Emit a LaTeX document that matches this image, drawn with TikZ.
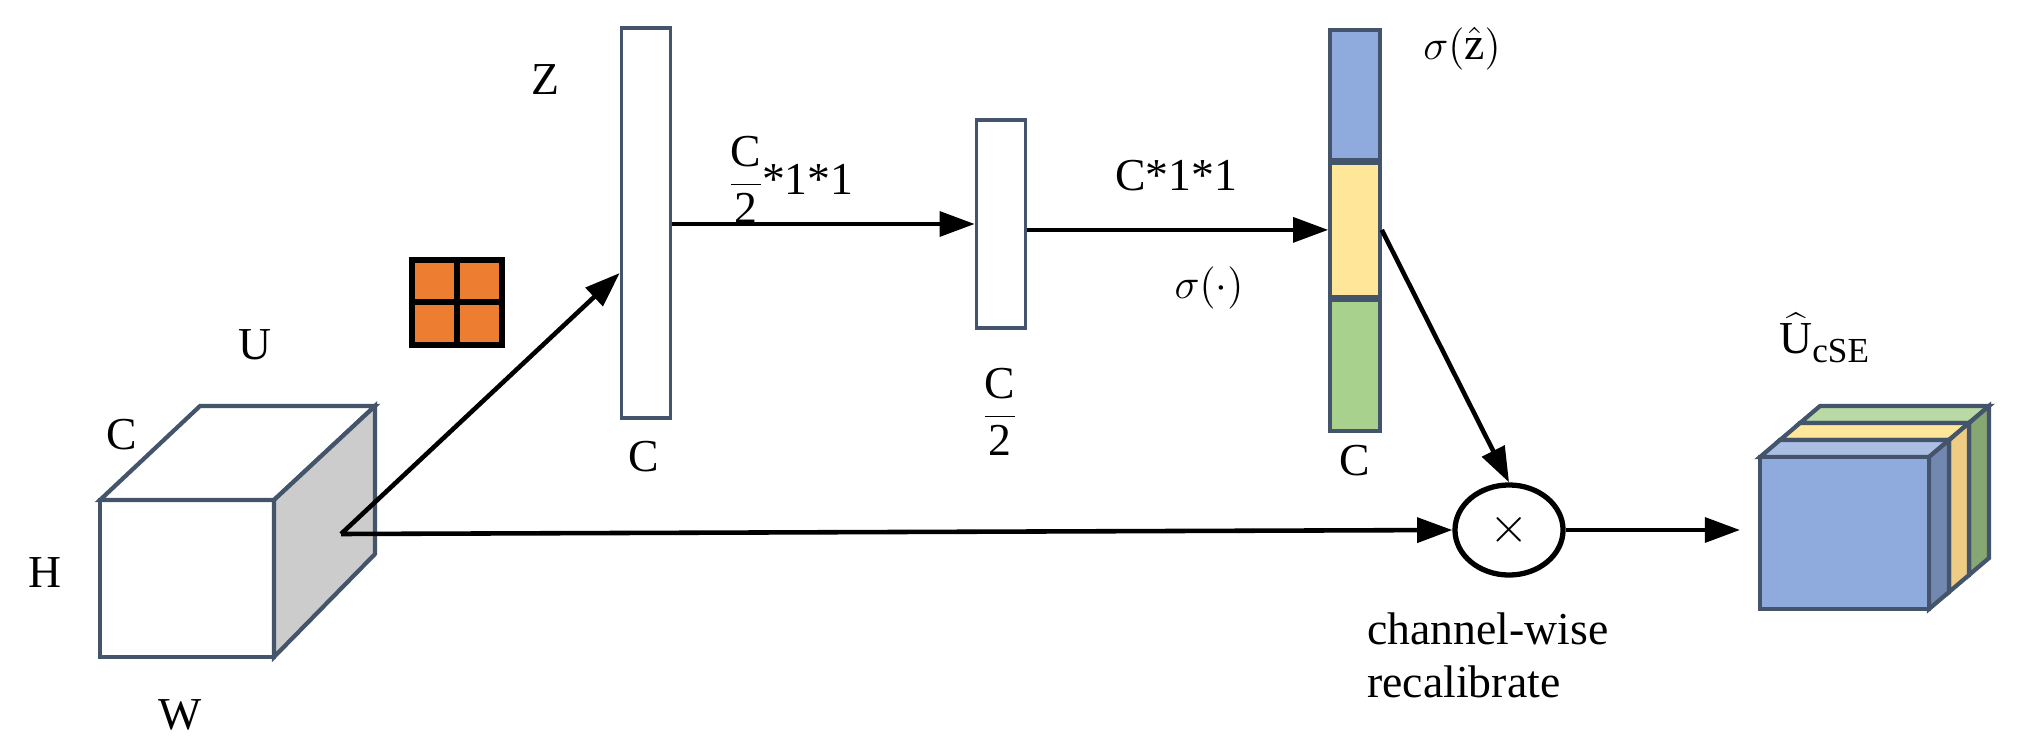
\documentclass[tikz,border=0pt]{standalone}
\usepackage{fontspec}
\setmainfont{Liberation Serif}
\usetikzlibrary{arrows.meta,shapes.geometric}
\definecolor{edge}{HTML}{44546A}
\definecolor{cblue}{HTML}{8FAADC}
\definecolor{cyellow}{HTML}{FFE699}
\definecolor{cgreen}{HTML}{A9D18E}
\definecolor{corange}{HTML}{ED7D31}

% one slab of the output cube: lower-left front corner, front fill, top fill, side fill
\newcommand{\slab}[5]{%
  \filldraw[draw=edge,line width=1.2pt,fill=#4] (#1,#2-152) -- ++(20,-17) -- ++(169,0) -- ++(-20,17) -- cycle;
  \filldraw[draw=edge,line width=1.2pt,fill=#5] (#1+169,#2) -- ++(0,-152) -- ++(20,-17) -- ++(0,152) -- cycle;
  \filldraw[draw=edge,line width=1.2pt,fill=#3] (#1,#2) rectangle ++(169,-152);
}

\begin{document}
\begin{tikzpicture}[x=0.01cm,y=-0.01cm,font=\rmfamily\fontsize{13}{15}\selectfont,
  bar/.style={rectangle,draw=edge,line width=1pt,minimum width=0.49cm,inner sep=0pt},
  cell/.style={rectangle,draw=edge,line width=1pt,minimum width=0.5cm,minimum height=1.29cm,inner sep=0pt},
  flow/.style={line width=1.3pt,-{Triangle[length=10pt,width=7pt]}}]
  \useasboundingbox (0,0) rectangle (2019,752);

  % input cube U
  \filldraw[draw=edge,line width=1.2pt,fill=white] (100,500) -- (200,406) -- (375,406) -- (274,500) -- cycle;
  \filldraw[draw=edge,line width=1.2pt,fill=black!20] (274,500) -- (375,406) -- (375,554) -- (274,657) -- cycle;
  \draw[edge,line width=1.2pt] (100,500) rectangle (274,657);
  \coordinate (in) at (341,534);
  \node (u) at (255,345) {U};
  \node (c) at (122,435) {C};
  \node (h) at (45,573) {H};
  \node (w) at (180,715) {W};

  % pooling kernel
  \filldraw[draw=black,line width=1.5pt,fill=corange] (412,260) rectangle (502,345);
  \draw[line width=1.5pt] (457,260) -- (457,345) (412,302) -- (502,302);

  % squeeze vector, bottleneck, excitation vector
  \node[bar,minimum height=3.9cm] (z) at (646,223) {};
  \node (zlab) at (545,80) {Z};
  \node (zc) at (644,457) {C};
  \node[bar,minimum height=2.08cm] (mid) at (1001,224) {};
  \node (midc) at (1000,412) {$\displaystyle\frac{\mbox{C}}{\mbox{2}}$};
  \node[cell,fill=cblue,minimum height=1.3cm,anchor=north] (s1) at (1355,28) {};
  \node[cell,fill=cyellow,minimum height=1.33cm,anchor=north] (s2) at (s1.south) {};
  \node[cell,fill=cgreen,minimum height=1.31cm,anchor=north] (s3) at (s2.south) {};
  \node (sz) at (1462,49) {$\sigma(\hat{\mbox{z}})$};
  \node (sc) at (1355,461) {C};

  \draw[flow] (in) -- (z.west |- 0,273);
  \draw[flow] (z.east |- mid) -- (mid.west);
  \node (fc1) at (790,180) {$\displaystyle\frac{\mbox{C}}{\mbox{2}}$\kern-1pt*1*1};
  \draw[flow] (mid.east |- s2) -- (s2.west);
  \node (fc2) at (1176,176) {C*1*1};
  \node (sig) at (1209,288) {$\sigma(\cdot)$};

  % recalibration
  \node[ellipse,draw,line width=1.5pt,minimum width=1.08cm,minimum height=0.9cm,inner sep=0pt] (mul) at (1509,530) {\Large$\times$};
  \draw[flow] (in) -- (mul.west);
  \draw[flow] (s2.east) -- (mul.north);
  \node[align=left] (rec) at (1488,655) {channel-wise\\recalibrate};
  \coordinate (out) at (1740,530);
  \draw[flow] (mul.east) -- (out);

  % output cube
  \slab{1800}{575}{cgreen}{cgreen!80!white}{cgreen!80!black}
  \slab{1780}{592}{cyellow}{cyellow}{cyellow!75!brown}
  \slab{1760}{609}{cblue}{cblue!75!white}{cblue!80!black}
  \node (uhat) at (1825,338) {$\widehat{\mbox{U}}_{\mbox{\normalsize cSE}}$};
\end{tikzpicture}
\end{document}
